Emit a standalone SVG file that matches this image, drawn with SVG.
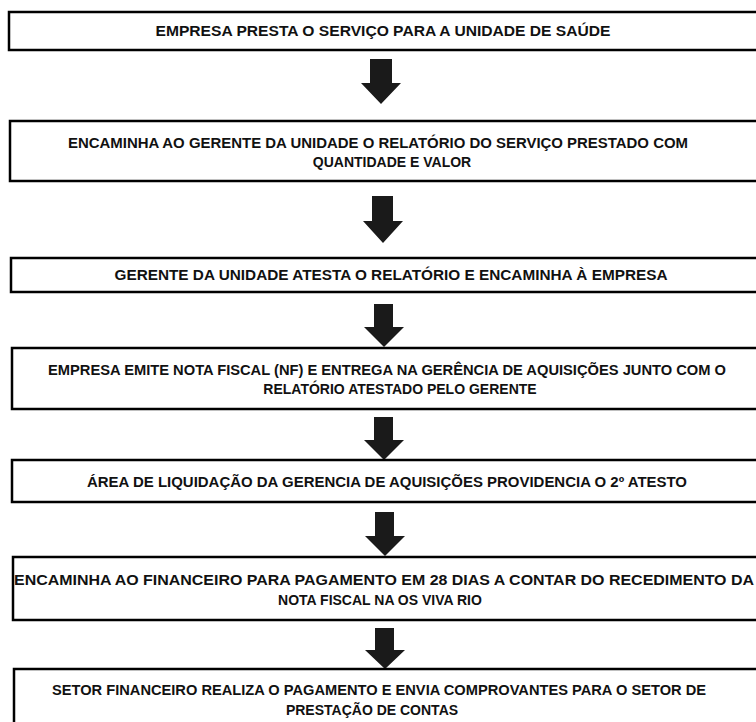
<svg xmlns="http://www.w3.org/2000/svg" width="756" height="722" viewBox="0 0 756 722">
<style>
.box{fill:#fff;stroke:#000;stroke-width:2.5}
.t{font-family:"Liberation Sans",Arial,sans-serif;font-weight:bold;font-size:14px;fill:#111;text-anchor:middle}
.arr{fill:#1a1a1a}
</style>
<rect width="756" height="722" fill="#fff"/>
<g id="connectors">
<polygon class="arr" points="370,59 392,59 392,83 401,83 381,104 361,83 370,83"/>
<polygon class="arr" points="372,196 393,196 393,221 403,221 383,243 363,221 372,221"/>
<polygon class="arr" points="374,304 393,304 393,327 404,327 384,347 364,327 374,327"/>
<polygon class="arr" points="374,417 393,417 393,440 404,440 384,460 364,440 374,440"/>
<polygon class="arr" points="375,512 394,512 394,536 405,536 385,556 365,536 375,536"/>
<polygon class="arr" points="375,628 394,628 394,650 405,650 385,669 365,650 375,650"/>
</g>
<g id="n1"><rect class="box" x="9" y="12" width="760" height="38"/>
<text class="t" x="383" y="36" textLength="455" lengthAdjust="spacingAndGlyphs">EMPRESA PRESTA O SERVIÇO PARA A UNIDADE DE SAÚDE</text></g>
<g id="n2"><rect class="box" x="10" y="121" width="760" height="60"/>
<text class="t" x="378" y="148" textLength="620" lengthAdjust="spacingAndGlyphs">ENCAMINHA AO GERENTE DA UNIDADE O RELATÓRIO DO SERVIÇO PRESTADO COM</text>
<text class="t" x="392" y="167">QUANTIDADE E VALOR</text></g>
<g id="n3"><rect class="box" x="11" y="258" width="760" height="34"/>
<text class="t" x="391" y="280" textLength="553" lengthAdjust="spacingAndGlyphs">GERENTE DA UNIDADE ATESTA O RELATÓRIO E ENCAMINHA À EMPRESA</text></g>
<g id="n4"><rect class="box" x="12" y="348" width="760" height="61"/>
<text class="t" x="387" y="375" textLength="678" lengthAdjust="spacingAndGlyphs">EMPRESA EMITE NOTA FISCAL (NF) E ENTREGA NA GERÊNCIA DE AQUISIÇÕES JUNTO COM O</text>
<text class="t" x="400" y="394">RELATÓRIO ATESTADO PELO GERENTE</text></g>
<g id="n5"><rect class="box" x="12" y="460" width="760" height="42"/>
<text class="t" x="387" y="487" textLength="600" lengthAdjust="spacingAndGlyphs">ÁREA DE LIQUIDAÇÃO DA GERENCIA DE AQUISIÇÕES PROVIDENCIA O 2º ATESTO</text></g>
<g id="n6"><rect class="box" x="13" y="557" width="760" height="63"/>
<text class="t" x="384" y="585" textLength="740" lengthAdjust="spacingAndGlyphs">ENCAMINHA AO FINANCEIRO PARA PAGAMENTO EM 28 DIAS A CONTAR DO RECEDIMENTO DA</text>
<text class="t" x="380" y="605">NOTA FISCAL NA OS VIVA RIO</text></g>
<g id="n7"><rect class="box" x="14" y="669" width="760" height="70"/>
<text class="t" x="379" y="695" textLength="654" lengthAdjust="spacingAndGlyphs">SETOR FINANCEIRO REALIZA O PAGAMENTO E ENVIA COMPROVANTES PARA O SETOR DE</text>
<text class="t" x="372" y="715">PRESTAÇÃO DE CONTAS</text></g>
</svg>
